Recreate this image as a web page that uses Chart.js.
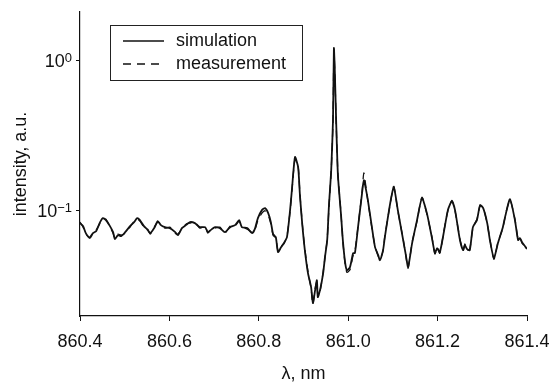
<!DOCTYPE html>
<html>
<head>
<meta charset="utf-8">
<script src="https://cdn.jsdelivr.net/npm/chart.js@4.4.1/dist/chart.umd.min.js"></script>
<style>
  html, body { margin: 0; padding: 0; background: #fff; }
</style>
</head>
<body>
<canvas id="chart" width="553" height="383"></canvas>
<script>
// wavelength, nm (shared by both curves)
const wavelength = [
  860.400, 860.407, 860.413, 860.422, 860.429, 860.436, 860.445, 860.451, 860.458, 860.467,
  860.474, 860.478, 860.485, 860.492, 860.501, 860.512, 860.521, 860.528, 860.534, 860.543,
  860.550, 860.557, 860.566, 860.574, 860.581, 860.590, 860.601, 860.613, 860.619, 860.628,
  860.637, 860.646, 860.657, 860.668, 860.680, 860.686, 860.695, 860.702, 860.713, 860.724,
  860.736, 860.747, 860.756, 860.762, 860.774, 860.785, 860.791, 860.798, 860.807, 860.814,
  860.821, 860.827, 860.832, 860.838, 860.843, 860.850, 860.856, 860.863, 860.870, 860.874,
  860.881, 860.888, 860.892, 860.897, 860.903, 860.910, 860.917, 860.921, 860.926, 860.930,
  860.932, 860.937, 860.944, 860.948, 860.953, 860.957, 860.962, 860.966, 860.968, 860.970,
  860.973, 860.977, 860.984, 860.988, 860.993, 860.997, 861.004, 861.011, 861.015, 861.022,
  861.031, 861.035, 861.040, 861.044, 861.053, 861.060, 861.067, 861.071, 861.078, 861.082,
  861.094, 861.102, 861.111, 861.123, 861.129, 861.134, 861.143, 861.154, 861.165, 861.176,
  861.187, 861.194, 861.199, 861.205, 861.214, 861.223, 861.232, 861.239, 861.250, 861.257,
  861.261, 861.266, 861.272, 861.279, 861.288, 861.295, 861.302, 861.311, 861.317, 861.326,
  861.335, 861.346, 861.353, 861.362, 861.373, 861.380, 861.384, 861.389, 861.400
];

const simulation = [
  0.0819, 0.0782, 0.0702, 0.0651, 0.0702, 0.0724, 0.0832, 0.0885, 0.0858, 0.0782,
  0.0713, 0.0641, 0.0681, 0.0671, 0.0713, 0.0782, 0.0832, 0.0885, 0.0858, 0.0782,
  0.0747, 0.0702, 0.0759, 0.0845, 0.0794, 0.0770, 0.0759, 0.0713, 0.0681, 0.0759,
  0.0794, 0.0832, 0.0819, 0.0770, 0.0770, 0.0713, 0.0747, 0.0770, 0.0759, 0.0713,
  0.0770, 0.0794, 0.0858, 0.0770, 0.0759, 0.0702, 0.0747, 0.0885, 0.1000, 0.1031,
  0.0955, 0.0832, 0.0692, 0.0661, 0.0525, 0.0567, 0.0603, 0.0661, 0.1000, 0.1359,
  0.2256, 0.1935, 0.1259, 0.0819, 0.0541, 0.0380, 0.0307, 0.0240, 0.0293, 0.0341,
  0.0263, 0.0293, 0.0380, 0.0486, 0.0631, 0.1080, 0.1848, 0.3981, 1.202, 0.858,
  0.3981, 0.1711, 0.0926, 0.0631, 0.0450, 0.0398, 0.0417, 0.0517, 0.0517, 0.0770,
  0.1298, 0.1585, 0.1359, 0.1166, 0.0770, 0.0567, 0.0501, 0.0464, 0.0541, 0.0661,
  0.1114, 0.1423, 0.1000, 0.0631, 0.0501, 0.0417, 0.0603, 0.0858, 0.1202, 0.0955,
  0.0661, 0.0517, 0.0558, 0.0525, 0.0713, 0.1000, 0.1148, 0.1000, 0.0631, 0.0541,
  0.0584, 0.0550, 0.0541, 0.0770, 0.0858, 0.1080, 0.1031, 0.0819, 0.0631, 0.0479,
  0.0603, 0.0770, 0.0955, 0.1184, 0.0858, 0.0631, 0.0651, 0.0612, 0.0550
];

const measurement = [
  0.0832, 0.0770, 0.0692, 0.0661, 0.0713, 0.0735, 0.0820, 0.0872, 0.0870, 0.0770,
  0.0702, 0.0651, 0.0692, 0.0681, 0.0702, 0.0770, 0.0845, 0.0872, 0.0845, 0.0770,
  0.0759, 0.0692, 0.0770, 0.0832, 0.0806, 0.0759, 0.0770, 0.0702, 0.0692, 0.0747,
  0.0806, 0.0820, 0.0832, 0.0759, 0.0782, 0.0702, 0.0759, 0.0759, 0.0770, 0.0702,
  0.0782, 0.0782, 0.0845, 0.0782, 0.0747, 0.0713, 0.0735, 0.0858, 0.0955, 0.0990,
  0.0930, 0.0806, 0.0681, 0.0651, 0.0535, 0.0575, 0.0595, 0.0670, 0.0985, 0.1330,
  0.2200, 0.1960, 0.1280, 0.0830, 0.0550, 0.0390, 0.0300, 0.0235, 0.0300, 0.0335,
  0.0270, 0.0287, 0.0390, 0.0478, 0.0640, 0.1060, 0.1820, 0.3900, 1.17, 0.84,
  0.390, 0.1740, 0.0940, 0.0620, 0.0440, 0.0385, 0.0400, 0.0500, 0.0530, 0.0780,
  0.1320, 0.1770, 0.1400, 0.1150, 0.0760, 0.0575, 0.0495, 0.0470, 0.0535, 0.0670,
  0.1100, 0.1440, 0.0990, 0.0640, 0.0495, 0.0410, 0.0610, 0.0845, 0.1220, 0.0940,
  0.0670, 0.0510, 0.0565, 0.0515, 0.0725, 0.0990, 0.1160, 0.0990, 0.0640, 0.0535,
  0.0595, 0.0540, 0.0550, 0.0760, 0.0870, 0.1070, 0.1040, 0.0810, 0.0640, 0.0470,
  0.0610, 0.0760, 0.0965, 0.1170, 0.0870, 0.0640, 0.0660, 0.0600, 0.0560
];

const yTickValues = [0.1, 1];
const seriesNames = ["simulation", "measurement"];

const FONT = '"Liberation Sans", Arial, Helvetica, sans-serif';
const INK = "#111";

function pts(ys) {
  return wavelength.map((x, i) => ({ x: x, y: ys[i] }));
}

// y labels as 10 with a raised exponent
const powerLabels = {
  id: "powerLabels",
  afterDraw(chart) {
    const ctx = chart.ctx;
    const s = chart.scales.y;
    ctx.save();
    ctx.fillStyle = INK;
    ctx.textAlign = "right";
    ctx.textBaseline = "alphabetic";
    s.ticks.forEach(t => {
      const py = s.getPixelForValue(t.value);
      const exp = String(Math.round(Math.log10(t.value))).replace("-", "\u2212");
      ctx.font = "13px " + FONT;
      const ew = ctx.measureText(exp).width;
      ctx.fillText(exp, 72, py + 2);
      ctx.font = "18px " + FONT;
      ctx.fillText("10", 72 - ew, py + 7);
    });
    ctx.restore();
  }
};

// framed legend sitting inside the plot
const legendBox = {
  id: "legendBox",
  afterDraw(chart) {
    const ctx = chart.ctx;
    ctx.save();
    ctx.strokeStyle = "#222";
    ctx.lineWidth = 1;
    ctx.strokeRect(110.5, 25.5, 192, 55);
    ctx.font = "18px " + FONT;
    ctx.textBaseline = "middle";
    ctx.textAlign = "left";
    chart.data.datasets.forEach((ds, i) => {
      const y = 41 + i * 23;
      ctx.beginPath();
      ctx.setLineDash(ds.borderDash || []);
      ctx.lineWidth = 1.5;
      ctx.strokeStyle = INK;
      ctx.moveTo(123, y);
      ctx.lineTo(164, y);
      ctx.stroke();
      ctx.setLineDash([]);
      ctx.fillStyle = INK;
      ctx.fillText(ds.label, 176, y);
    });
    ctx.restore();
  }
};

new Chart(document.getElementById("chart"), {
  type: "line",
  data: {
    datasets: [
      {
        label: seriesNames[0],
        data: pts(simulation),
        borderColor: INK,
        borderWidth: 1.8,
        pointRadius: 0,
        tension: 0.2
      },
      {
        label: seriesNames[1],
        data: pts(measurement),
        borderColor: INK,
        borderWidth: 1.3,
        borderDash: [8, 6],
        pointRadius: 0,
        tension: 0.2
      }
    ]
  },
  options: {
    responsive: false,
    animation: false,
    layout: { padding: { top: 12, right: 26, left: 0, bottom: 0 } },
    plugins: {
      legend: { display: false },
      tooltip: { enabled: false }
    },
    scales: {
      x: {
        type: "linear",
        min: 860.4,
        max: 861.4,
        ticks: {
          stepSize: 0.2,
          color: INK,
          font: { family: FONT, size: 18, lineHeight: 1 },
          padding: 12,
          maxRotation: 0,
          callback: v => v.toFixed(1)
        },
        grid: { drawOnChartArea: false, drawTicks: true, tickLength: 5, color: INK },
        border: { color: INK, width: 1.2 },
        title: {
          display: true,
          text: "\u03bb, nm",
          color: INK,
          font: { family: FONT, size: 18, lineHeight: 1 },
          padding: { top: 0, bottom: 0 }
        },
        afterFit: s => { s.height = 67; s.paddingLeft = 0; s.paddingRight = 0; }
      },
      y: {
        type: "logarithmic",
        min: 0.0197,
        max: 2.09,
        afterBuildTicks: s => { s.ticks = yTickValues.map(v => ({ value: v })); },
        ticks: { display: false },
        grid: { drawOnChartArea: false, drawTicks: true, tickLength: 4, color: INK },
        border: { color: INK, width: 1.2 },
        title: {
          display: true,
          text: "intensity, a.u.",
          color: INK,
          font: { family: FONT, size: 18, lineHeight: 1 },
          padding: { top: 12, bottom: 0 }
        },
        afterFit: s => { s.width = 80; s.paddingTop = 0; s.paddingBottom = 0; }
      }
    }
  },
  plugins: [powerLabels, legendBox]
});
</script>
</body>
</html>
